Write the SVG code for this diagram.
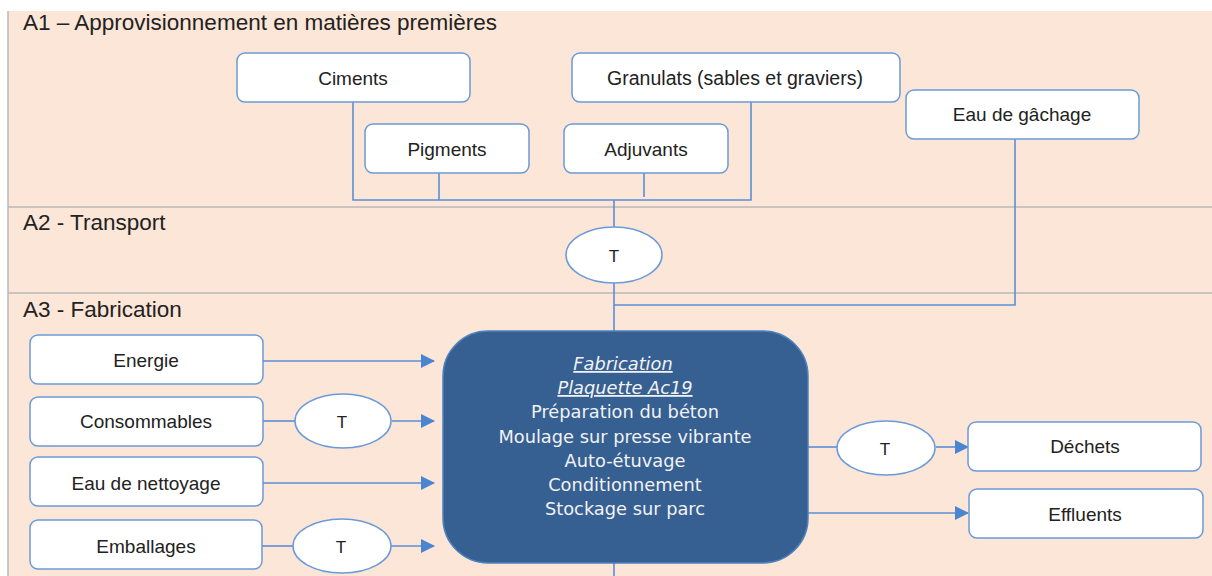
<svg xmlns="http://www.w3.org/2000/svg" width="1212" height="576" viewBox="0 0 1212 576">
<defs>
<marker id="arr" markerWidth="14" markerHeight="14" refX="13" refY="7" orient="auto" markerUnits="userSpaceOnUse">
<path d="M0,0 L14,7 L0,14 Z" fill="#4a86d0"/>
</marker>
<style>
.box{fill:#fff;stroke:#6b9ad8;stroke-width:1.5}
.ell{fill:#fff;stroke:#6b9ad8;stroke-width:1.5}
.lbl{font-family:"Liberation Sans",Arial,sans-serif;font-size:19px;fill:#222;text-anchor:middle}
.lane{font-family:"Liberation Sans",Arial,sans-serif;font-size:22.5px;fill:#222}
.con{fill:none;stroke:#5b8fd6;stroke-width:1.6}
.sep{stroke:#b8b8b8;stroke-width:1.5}
.mt{font-family:"DejaVu Sans",Verdana,sans-serif;font-size:17.8px;fill:#f2f2f2;text-anchor:middle}
</style>
</defs>
<rect x="0" y="0" width="1212" height="576" fill="#ffffff"/>
<rect x="8" y="11" width="1204" height="565" fill="#fce6d7"/>
<line class="sep" x1="8" y1="11" x2="8" y2="576"/>
<line class="sep" x1="8" y1="207" x2="1212" y2="207"/>
<line class="sep" x1="8" y1="293" x2="1212" y2="293"/>
<text class="lane" x="23" y="30">A1 – Approvisionnement en matières premières</text>
<text class="lane" x="23" y="230">A2 - Transport</text>
<text class="lane" x="23" y="317">A3 - Fabrication</text>

<g id="connectors">
<polyline class="con" points="353,102 353,200 751,200 751,102"/>
<line class="con" x1="439" y1="173" x2="439" y2="200"/>
<line class="con" x1="644" y1="173" x2="644" y2="197"/>
<line class="con" x1="614" y1="200" x2="614" y2="227"/>
<line class="con" x1="614" y1="283" x2="614" y2="331"/>
<polyline class="con" points="1015,139 1015,305 614,305"/>
<line class="con" x1="614" y1="563" x2="614" y2="576"/>
<line class="con" x1="263" y1="361" x2="434" y2="361" marker-end="url(#arr)"/>
<line class="con" x1="263" y1="421" x2="295" y2="421"/>
<line class="con" x1="392" y1="421" x2="434" y2="421" marker-end="url(#arr)"/>
<line class="con" x1="263" y1="483" x2="434" y2="483" marker-end="url(#arr)"/>
<line class="con" x1="262" y1="546" x2="293" y2="546"/>
<line class="con" x1="391" y1="546" x2="434" y2="546" marker-end="url(#arr)"/>
<line class="con" x1="808" y1="447" x2="837" y2="447"/>
<line class="con" x1="936" y1="447" x2="968" y2="447" marker-end="url(#arr)"/>
<line class="con" x1="808" y1="513" x2="968" y2="513" marker-end="url(#arr)"/>
</g>

<g id="ciments"><rect class="box" x="237" y="53" width="233" height="49" rx="8"/><text class="lbl" x="353" y="85">Ciments</text></g>
<g id="pigments"><rect class="box" x="365" y="124" width="164" height="49" rx="8"/><text class="lbl" x="447" y="156">Pigments</text></g>
<g id="adjuvants"><rect class="box" x="564" y="124" width="164" height="49" rx="8"/><text class="lbl" x="646" y="156">Adjuvants</text></g>
<g id="granulats"><rect class="box" x="572" y="53" width="328" height="49" rx="8"/><text class="lbl" x="735" y="85" style="font-size:19.5px">Granulats (sables et graviers)</text></g>
<g id="eau-gachage"><rect class="box" x="906" y="90" width="233" height="49" rx="8"/><text class="lbl" x="1022" y="121">Eau de gâchage</text></g>
<g id="transport-t"><ellipse class="ell" cx="614" cy="255" rx="48" ry="28"/><text class="lbl" x="614" y="262" style="font-size:17px">T</text></g>

<g id="fabrication">
<rect x="443" y="331" width="365" height="232" rx="45" fill="#365f92" stroke="#4f81bd" stroke-width="1.5"/>
<text class="mt" x="623" y="370" font-style="italic" text-decoration="underline">Fabrication </text>
<text class="mt" x="625" y="394" font-style="italic" text-decoration="underline">Plaquette Ac19</text>
<text class="mt" x="625" y="418">Préparation du béton</text>
<text class="mt" x="625" y="443">Moulage sur presse vibrante</text>
<text class="mt" x="625" y="467">Auto-étuvage</text>
<text class="mt" x="625" y="491">Conditionnement</text>
<text class="mt" x="625" y="515">Stockage sur parc</text>
</g>

<g id="energie"><rect class="box" x="30" y="335" width="233" height="49" rx="8"/><text class="lbl" x="146" y="367">Energie</text></g>
<g id="consommables"><rect class="box" x="30" y="397" width="233" height="49" rx="8"/><text class="lbl" x="146" y="428">Consommables</text></g>
<g id="consommables-t"><ellipse class="ell" cx="343" cy="421" rx="48" ry="27"/><text class="lbl" x="342" y="428" style="font-size:17px">T</text></g>
<g id="eau-nettoyage"><rect class="box" x="30" y="457" width="233" height="49" rx="8"/><text class="lbl" x="146" y="490">Eau de nettoyage</text></g>
<g id="emballages"><rect class="box" x="30" y="520" width="232" height="49" rx="8"/><text class="lbl" x="146" y="553">Emballages</text></g>
<g id="emballages-t"><ellipse class="ell" cx="342" cy="546" rx="49" ry="27"/><text class="lbl" x="341" y="553" style="font-size:17px">T</text></g>
<g id="dechets-t"><ellipse class="ell" cx="886" cy="448" rx="49" ry="27"/><text class="lbl" x="885" y="455" style="font-size:17px">T</text></g>
<g id="dechets"><rect class="box" x="968" y="422" width="233" height="49" rx="8"/><text class="lbl" x="1085" y="453">Déchets</text></g>
<g id="effluents"><rect class="box" x="969" y="489" width="234" height="49" rx="8"/><text class="lbl" x="1085" y="521">Effluents</text></g>
</svg>
